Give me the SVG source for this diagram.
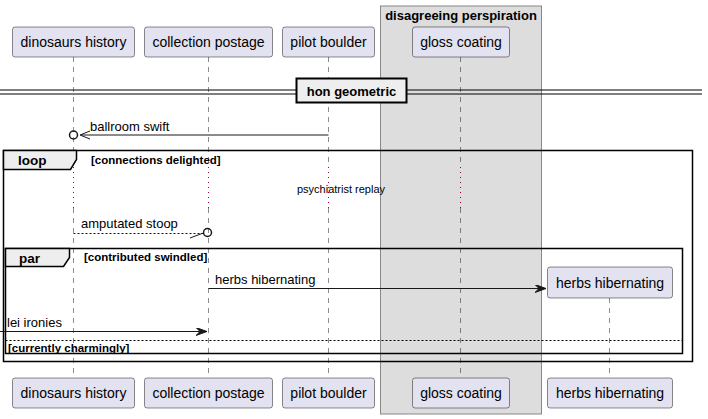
<svg xmlns="http://www.w3.org/2000/svg" width="708" height="419" viewBox="0 0 708 419">
<style>
.part rect{fill:#E2E2F0;stroke:#181818;stroke-width:0.5}
.part text{font-family:"Liberation Sans",Arial,sans-serif;font-size:14px;fill:#000;text-anchor:middle}
.life{stroke:#181818;stroke-width:0.5;stroke-dasharray:5,5;fill:none}
.delay{stroke:#A80036;stroke-width:1;stroke-dasharray:1,4;fill:none}
.msg{font-family:"Liberation Sans",Arial,sans-serif;font-size:13px;fill:#000}
.bold{font-family:"Liberation Sans",Arial,sans-serif;font-weight:bold;fill:#000}
.frame{fill:none;stroke:#000;stroke-width:1.5}
.tab{fill:#EEEEEE;stroke:#000;stroke-width:1.5}
.line{stroke:#181818;stroke-width:1;fill:none}
</style>
<defs>
<marker id="filled" markerWidth="12" markerHeight="10" refX="11" refY="4" orient="auto" markerUnits="userSpaceOnUse">
<polygon points="0,0 11,4 0,8 4,4" fill="#181818" stroke="#181818" stroke-width="1"/>
</marker>
</defs>
<rect width="708" height="419" fill="#FFFFFF"/>
<!-- box -->
<g id="box-disagreeing-perspiration">
<rect x="380.5" y="6" width="161" height="408" fill="#DDDDDD" stroke="#888888" stroke-width="1"/>
<text x="461" y="20" class="bold" font-size="13" text-anchor="middle">disagreeing perspiration</text>
</g>
<!-- lifelines -->
<g id="lifelines">
<line class="life" x1="73.5" y1="57" x2="73.5" y2="167"/>
<line class="life" x1="73.5" y1="208" x2="73.5" y2="378"/>
<line class="life" x1="208.5" y1="57" x2="208.5" y2="167"/>
<line class="life" x1="208.5" y1="208" x2="208.5" y2="378"/>
<line class="life" x1="328.5" y1="57" x2="328.5" y2="167"/>
<line class="life" x1="328.5" y1="208" x2="328.5" y2="378"/>
<line class="life" x1="460.5" y1="57" x2="460.5" y2="167"/>
<line class="life" x1="460.5" y1="208" x2="460.5" y2="378"/>
<line class="life" x1="609.5" y1="298" x2="609.5" y2="378"/>
<line class="delay" x1="73.5" y1="167" x2="73.5" y2="208"/>
<line class="delay" x1="208.5" y1="167" x2="208.5" y2="208"/>
<line class="delay" x1="328.5" y1="167" x2="328.5" y2="208"/>
<line class="delay" x1="460.5" y1="167" x2="460.5" y2="208"/>
</g>
<!-- participants -->
<g id="p-dinosaurs-history" class="part">
<rect x="12.5" y="27" width="122" height="30" rx="2.5"/>
<text x="73.5" y="47">dinosaurs history</text>
<rect x="12.5" y="378" width="122" height="30" rx="2.5"/>
<text x="73.5" y="398">dinosaurs history</text>
</g>
<g id="p-collection-postage" class="part">
<rect x="144.5" y="27" width="128" height="30" rx="2.5"/>
<text x="208.5" y="47">collection postage</text>
<rect x="144.5" y="378" width="128" height="30" rx="2.5"/>
<text x="208.5" y="398">collection postage</text>
</g>
<g id="p-pilot-boulder" class="part">
<rect x="282.5" y="27" width="92" height="30" rx="2.5"/>
<text x="328.5" y="47">pilot boulder</text>
<rect x="282.5" y="378" width="92" height="30" rx="2.5"/>
<text x="328.5" y="398">pilot boulder</text>
</g>
<g id="p-gloss-coating" class="part">
<rect x="412.5" y="27" width="97" height="30" rx="2.5"/>
<text x="461" y="47">gloss coating</text>
<rect x="412.5" y="378" width="97" height="30" rx="2.5"/>
<text x="461" y="398">gloss coating</text>
</g>
<g id="p-herbs-hibernating" class="part">
<rect x="547.5" y="267" width="125" height="31" rx="2.5"/>
<text x="610" y="288">herbs hibernating</text>
<rect x="547.5" y="378" width="125" height="30" rx="2.5"/>
<text x="610" y="398">herbs hibernating</text>
</g>
<!-- divider -->
<g id="divider-hon-geometric">
<line x1="0" y1="90" x2="702" y2="90" stroke="#000" stroke-width="1"/>
<line x1="0" y1="94" x2="702" y2="94" stroke="#000" stroke-width="1"/>
<rect x="296.5" y="78.5" width="110" height="24" fill="#EEEEEE" stroke="#000" stroke-width="2"/>
<text x="351.5" y="96" class="bold" font-size="13" text-anchor="middle">hon geometric</text>
</g>
<!-- groups -->
<g id="group-loop">
<rect class="frame" x="3.5" y="150.5" width="689" height="211"/>
<polygon class="tab" points="3.5,150.5 76.5,150.5 76.5,159.5 70.5,169.5 3.5,169.5"/>
<text x="18" y="165" class="bold" font-size="13.5">loop</text>
<text x="91" y="164" class="bold" font-size="11.5">[connections delighted]</text>
</g>
<g id="group-par">
<rect class="frame" x="5.5" y="248.5" width="677" height="105"/>
<polygon class="tab" points="5.5,248.5 69.5,248.5 69.5,257.5 63.5,266.5 5.5,266.5"/>
<text x="19" y="263" class="bold" font-size="13.5">par</text>
<text x="84" y="261" class="bold" font-size="11.5">[contributed swindled]</text>
<line x1="5.5" y1="340.5" x2="682.5" y2="340.5" stroke="#000" stroke-width="1" stroke-dasharray="2,2"/>
<text x="8" y="352" class="bold" font-size="11.5">[currently charmingly]</text>
</g>
<!-- delay text -->
<text x="341" y="193" font-family="'Liberation Sans',Arial,sans-serif" font-size="11" text-anchor="middle">psychiatrist replay</text>
<!-- connectors -->
<g id="connectors">
<g id="m-ballroom-swift">
<line class="line" x1="328.5" y1="135" x2="81" y2="135"/>
<polyline class="line" points="90,131 80,135 90,139" stroke-width="1.5"/>
<circle cx="73.5" cy="135" r="4" fill="none" stroke="#181818" stroke-width="1.5"/>
<text class="msg" x="90" y="131">ballroom swift</text>
</g>
<g id="m-amputated-stoop">
<line class="line" x1="73.5" y1="233.5" x2="203" y2="233.5" stroke-dasharray="2,2"/>
<line class="line" x1="190" y1="238" x2="202" y2="233.5" stroke-width="1"/>
<circle cx="207.5" cy="232.5" r="4" fill="none" stroke="#181818" stroke-width="1.5"/>
<text class="msg" x="81" y="228">amputated stoop</text>
</g>
<g id="m-herbs-hibernating">
<line class="line" x1="208.5" y1="288.5" x2="546" y2="288.5" marker-end="url(#filled)"/>
<text class="msg" x="215" y="284">herbs hibernating</text>
</g>
<g id="m-lei-ironies">
<line class="line" x1="0" y1="331.5" x2="207" y2="331.5" marker-end="url(#filled)"/>
<text class="msg" x="7" y="327">lei ironies</text>
</g>
</g>
</svg>
